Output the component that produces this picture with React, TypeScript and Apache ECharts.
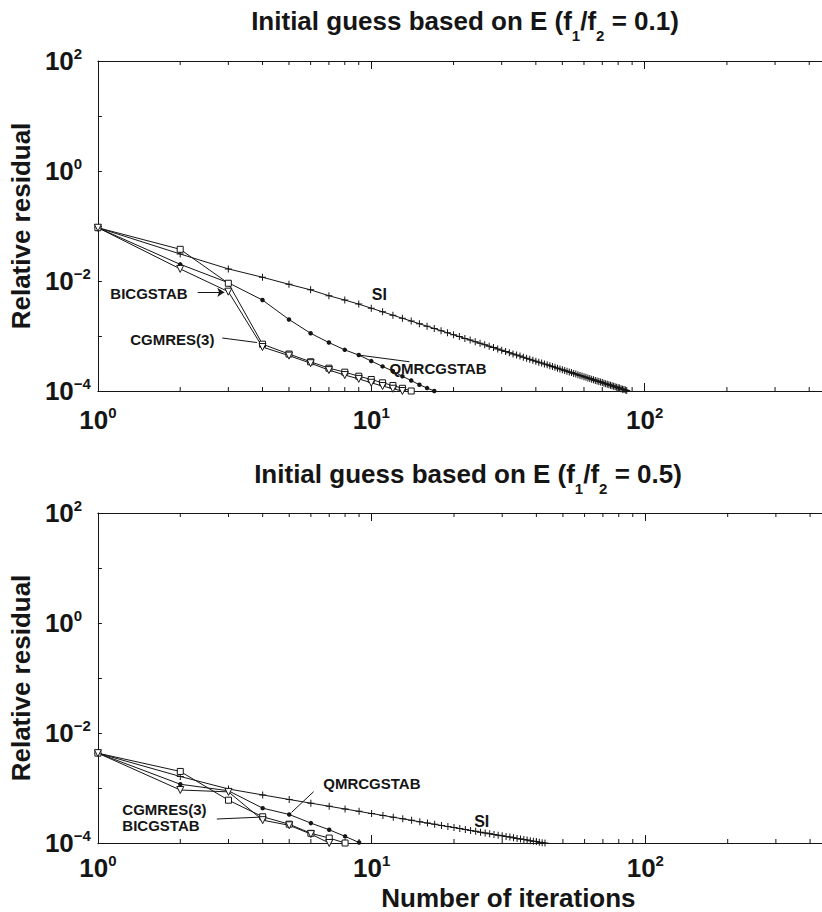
import React, { useEffect, useRef } from 'react';
import * as echarts from 'echarts';

const FONT = '"Liberation Sans", Arial, Helvetica, sans-serif';
const INK = '#151515';

const ratios = ['0.1', '0.5'];
const xAxisTitle = 'Number of iterations';
const yAxisTitle = 'Relative residual';
const xMinorTicks = [2, 3, 4, 5, 6, 7, 8, 9, 20, 30, 40, 50, 60, 70, 80, 90, 200, 300, 400, 500, 600, 700, 800, 900];

// Top panel (f1/f2 = 0.1), value at iteration 1, 2, 3, ...
const siTop = [
  0.093, 0.031, 0.0166, 0.0117, 0.0087, 0.0069, 0.0054, 0.0045, 0.0038, 0.0032,
  0.00275, 0.00239, 0.0021, 0.00187, 0.00167, 0.00151, 0.00137, 0.00125, 0.00114, 0.00105,
  0.000975, 0.000905, 0.000843, 0.000788, 0.000738, 0.000693, 0.000653, 0.000615, 0.000582, 0.000552,
  0.000524, 0.000498, 0.000472, 0.000452, 0.000431, 0.000412, 0.000394, 0.000378, 0.000362, 0.000348,
  0.000334, 0.000322, 0.00031, 0.000299, 0.000288, 0.000278, 0.000269, 0.00026, 0.000252, 0.000243,
  0.000235, 0.000229, 0.000222, 0.000216, 0.000209, 0.000203, 0.000197, 0.000192, 0.000187, 0.000182,
  0.000177, 0.000173, 0.000168, 0.000164, 0.00016, 0.000156, 0.000152, 0.000149, 0.000145, 0.000142,
  0.000139, 0.000136, 0.000133, 0.00013, 0.000127, 0.000124, 0.000122, 0.00012, 0.000117, 0.000115,
  0.000113, 0.00011, 0.000108, 0.000106, 0.000104, 0.000102,
];
const qmrTop = [0.093, 0.0201, 0.0093, 0.0045, 0.002, 0.00112, 0.00076, 0.00056, 0.00045, 0.00035, 0.00028, 0.00023, 0.000185, 0.000155, 0.00013, 0.000113, 0.0001];
const cgmresTop = [0.093, 0.0377, 0.0091, 0.00071, 0.00047, 0.00034, 0.00026, 0.00022, 0.000186, 0.000162, 0.000141, 0.000126, 0.000112, 0.0001];
const bicgTop = [0.093, 0.0166, 0.0064, 0.00063, 0.00044, 0.00032, 0.00024, 0.000195, 0.000166, 0.000141, 0.000123, 0.00011, 0.0001];

// Bottom panel (f1/f2 = 0.5)
const siBot = [
  0.0043, 0.00162, 0.00096, 0.000748, 0.000618, 0.00053, 0.000465, 0.000415, 0.000376, 0.000343,
  0.000317, 0.000294, 0.000275, 0.000258, 0.000243, 0.00023, 0.000219, 0.000208, 0.000199, 0.000191,
  0.000183, 0.000176, 0.000169, 0.000163, 0.000157, 0.000152, 0.000148, 0.000143, 0.000139, 0.000135,
  0.000131, 0.000128, 0.000124, 0.000121, 0.000118, 0.000116, 0.000113, 0.00011, 0.000108, 0.000106,
  0.000103, 0.000101, 0.0001,
];
const qmrBot = [0.0043, 0.00117, 0.00089, 0.00043, 0.00033, 0.00023, 0.000174, 0.000132, 0.000102];
const cgmresBot = [0.0043, 0.002, 0.0006, 0.0003, 0.00022, 0.00015, 0.000123, 0.0001];
const bicgBot = [0.0043, 0.00092, 0.00085, 0.00026, 0.00021, 0.000145, 0.0001];

const toPairs = (vals: number[]) => vals.map((v, i) => [i + 1, v]);
const supText = (e: number) => (e < 0 ? '\u2212' + Math.abs(e) : String(e));
const expOf = (v: number) => Math.round(Math.log10(v));

const richPow = {
  b: { fontSize: 26, fontWeight: 'bold', fontFamily: FONT, color: INK, lineHeight: 30 },
  s: { fontSize: 15, fontWeight: 'bold', fontFamily: FONT, color: INK, lineHeight: 4, verticalAlign: 'top' },
};

const PLUS = 'path://M3,0h1v7h-1z M0,3h7v1h-7z';

const labelStyle = (text: string, size = 15) => ({
  show: true,
  position: 'right',
  distance: 0,
  formatter: text,
  color: INK,
  fontSize: size,
  lineHeight: 12,
  fontWeight: 'bold',
  fontFamily: FONT,
});

function tag(coord: number[], text: string, size = 15) {
  return { coord, symbol: 'circle', symbolSize: 1, itemStyle: { color: 'rgba(0,0,0,0)' }, label: labelStyle(text, size) };
}

function pointer(from: number[], to: number[], arrow = false) {
  return {
    silent: true,
    symbol: arrow ? ['none', 'arrow'] : ['none', 'none'],
    symbolSize: 7,
    lineStyle: { color: INK, width: 1, type: 'solid' },
    label: { show: false },
    emphasis: { disabled: true },
    data: [[{ coord: from }, { coord: to }]],
  };
}

function lineSeries(name: string, data: number[], xi: number, yi: number, kind: string, extra: any = {}) {
  const base: any = {
    name,
    type: 'line',
    xAxisIndex: xi,
    yAxisIndex: yi,
    data: toPairs(data),
    showSymbol: true,
    lineStyle: { color: INK, width: 1 },
    emphasis: { disabled: true },
    silent: true,
  };
  if (kind === 'plus') {
    base.symbol = PLUS;
    base.symbolSize = 7;
    base.itemStyle = { color: INK };
  } else if (kind === 'dot') {
    base.symbol = 'circle';
    base.symbolSize = 4.5;
    base.itemStyle = { color: INK };
  } else if (kind === 'square') {
    base.symbol = 'rect';
    base.symbolSize = 6;
    base.itemStyle = { color: '#fff', borderColor: INK, borderWidth: 1 };
  } else {
    base.symbol = 'triangle';
    base.symbolSize = 7;
    base.symbolRotate = 180;
    base.itemStyle = { color: '#fff', borderColor: INK, borderWidth: 1 };
  }
  return { ...base, ...extra };
}

function minorTickSeries(xi: number, yi: number) {
  return {
    type: 'custom',
    xAxisIndex: xi,
    yAxisIndex: yi,
    silent: true,
    clip: false,
    data: xMinorTicks.map((v) => [v, 1]),
    renderItem: (params: any, api: any) => {
      const x = api.value(0);
      const b = api.coord([x, 1e-4]);
      const t = api.coord([x, 100]);
      const st = { stroke: INK, lineWidth: 1 };
      return {
        type: 'group',
        children: [
          { type: 'line', shape: { x1: b[0], y1: b[1], x2: b[0], y2: b[1] - 4 }, style: st },
          { type: 'line', shape: { x1: t[0], y1: t[1], x2: t[0], y2: t[1] + 4 }, style: st },
        ],
      };
    },
  };
}

function xAxes(grid: number, withName: boolean, margin: number) {
  const common: any = {
    gridIndex: grid,
    type: 'log',
    logBase: 10,
    min: 1,
    max: 1000,
    splitLine: { show: false },
    axisLine: { show: true, onZero: false, lineStyle: { color: INK, width: 1 } },
    axisTick: { show: true, inside: true, length: 8, lineStyle: { color: INK, width: 1 } },
  };
  return [
    {
      ...common,
      position: 'bottom',
      axisLabel: {
        show: true,
        margin,
        interval: 0,
        showMinLabel: true,
        showMaxLabel: false,
        formatter: (v: number) => {
          const e = expOf(v);
          return e > 2 ? '' : `{b|10}{s|${supText(e)}}`;
        },
        rich: richPow,
      },
      ...(withName
        ? {
            name: xAxisTitle,
            nameLocation: 'middle',
            nameGap: 43,
            nameTextStyle: { fontSize: 26, lineHeight: 24, fontWeight: 'bold', fontFamily: FONT, color: INK },
          }
        : {}),
    },
    { ...common, position: 'top', axisLabel: { show: false } },
  ];
}

function yAxis(grid: number) {
  return {
    gridIndex: grid,
    type: 'log',
    logBase: 10,
    min: 1e-4,
    max: 100,
    splitLine: { show: false },
    axisLine: { show: true, onZero: false, lineStyle: { color: INK, width: 1 } },
    axisTick: { show: true, inside: true, length: 4, lineStyle: { color: INK, width: 1 } },
    axisLabel: {
      show: true,
      interval: 0,
      showMinLabel: true,
      showMaxLabel: true,
      align: 'left',
      margin: 53,
      formatter: (v: number) => {
        const e = expOf(v);
        return e % 2 === 0 ? `{b|10}{s|${supText(e)}}` : '';
      },
      rich: richPow,
    },
    name: yAxisTitle,
    nameLocation: 'middle',
    nameRotate: 90,
    nameGap: 56,
    nameTextStyle: { fontSize: 26, fontWeight: 'bold', fontFamily: FONT, color: INK },
  };
}

function titleGraphic(ratio: string, cx: number, cy: number) {
  return {
    type: 'text',
    x: cx,
    y: cy,
    style: {
      text: `{t|Initial guess based on E (f}{s|1}{t|/f}{s|2}{t| = ${ratio})}`,
      align: 'center',
      verticalAlign: 'middle',
      rich: {
        t: { fontSize: 26, fontWeight: 'bold', fontFamily: FONT, fill: INK, lineHeight: 44 },
        s: { fontSize: 15, fontWeight: 'bold', fontFamily: FONT, fill: INK, lineHeight: 15, verticalAlign: 'bottom' },
      },
    },
  };
}

const option: any = {
  animation: false,
  backgroundColor: '#fff',
  grid: [
    { left: 96, top: 61, width: 822, height: 330 },
    { left: 97, top: 513, width: 822, height: 330 },
  ],
  xAxis: [...xAxes(0, false, 14), ...xAxes(1, true, 10)],
  yAxis: [yAxis(0), yAxis(1)],
  graphic: [titleGraphic(ratios[0], 465, 21), titleGraphic(ratios[1], 468, 474)],
  series: [
    minorTickSeries(0, 0),
    minorTickSeries(2, 1),
    // top panel
    lineSeries('SI', siTop, 0, 0, 'plus', {
      markPoint: { silent: true, data: [tag([10.0, 0.0058], 'SI', 16)] },
    }),
    lineSeries('QMRCGSTAB', qmrTop, 0, 0, 'dot', {
      markPoint: { silent: true, data: [tag([11.6, 0.00026], 'QMRCGSTAB')] },
      markLine: pointer([13.8, 0.00034], [9.0, 0.00045]),
    }),
    lineSeries('CGMRES(3)', cgmresTop, 0, 0, 'square', {
      markPoint: { silent: true, data: [tag([1.308, 0.00088], 'CGMRES(3)')] },
      markLine: pointer([2.85, 0.00092], [3.82, 0.00076]),
    }),
    lineSeries('BICGSTAB', bicgTop, 0, 0, 'tri', {
      markPoint: { silent: true, data: [tag([1.106, 0.00605], 'BICGSTAB')] },
      markLine: pointer([2.317, 0.00622], [2.9, 0.00622], true),
    }),
    // bottom panel
    lineSeries('SI', siBot, 2, 1, 'plus', {
      markPoint: { silent: true, data: [tag([23.6, 0.000241], 'SI', 16)] },
    }),
    lineSeries('QMRCGSTAB', qmrBot, 2, 1, 'dot', {
      markPoint: { silent: true, data: [tag([6.63, 0.00121], 'QMRCGSTAB')] },
      markLine: pointer([6.14, 0.000857], [5.1, 0.00036]),
    }),
    lineSeries('CGMRES(3)', cgmresBot, 2, 1, 'square', {
      markPoint: { silent: true, data: [tag([1.223, 0.0004], 'CGMRES(3)'), tag([1.223, 0.000212], 'BICGSTAB')] },
      markLine: pointer([2.72, 0.000273], [3.9, 0.000295]),
    }),
    lineSeries('BICGSTAB', bicgBot, 2, 1, 'tri'),
  ],
};

export default function App() {
  const ref = useRef<HTMLDivElement>(null);
  useEffect(() => {
    const chart = echarts.init(ref.current as HTMLDivElement, undefined, { renderer: 'svg' });
    chart.setOption(option);
    return () => chart.dispose();
  }, []);
  return (
    <div style={{ position: 'absolute', left: 0, top: 0, width: 822, height: 912, overflow: 'hidden', background: '#fff' }}>
      <div ref={ref} style={{ width: 1000, height: 912, background: '#fff' }} />
    </div>
  );
}
